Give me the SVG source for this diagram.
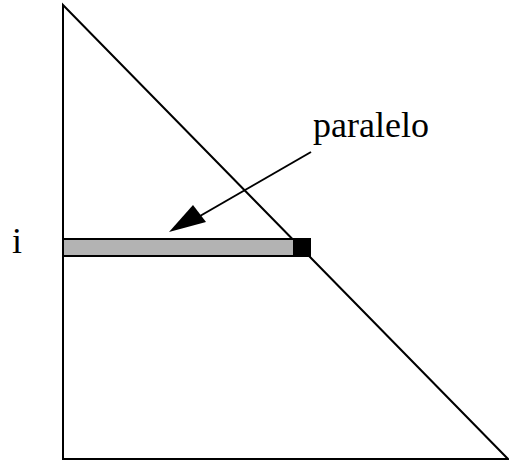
<svg xmlns="http://www.w3.org/2000/svg" width="509" height="461" viewBox="0 0 509 461">
<style>
.ln{stroke:#000;stroke-width:2;fill:none}
.lbl{font-family:"Liberation Serif",serif;font-size:36px;fill:#000}
</style>
<rect width="509" height="461" fill="#fff"/>
<g id="triangle">
<path class="ln" d="M63,5 L63,459 L508,459 Z" stroke-linejoin="miter"/>
</g>
<g id="bar">
<rect x="63" y="239" width="231" height="17" fill="#b3b3b3" stroke="#000" stroke-width="2"/>
</g>
<g id="square">
<rect x="293" y="238" width="18" height="19" fill="#000"/>
</g>
<g id="connectors">
<line x1="311" y1="152" x2="200" y2="216" stroke="#000" stroke-width="2"/>
<path d="M169,232 L193,205 L206,222 Z" fill="#000"/>
</g>
<text class="lbl" x="12" y="253">i</text>
<text class="lbl" x="313" y="137">paralelo</text>
</svg>
